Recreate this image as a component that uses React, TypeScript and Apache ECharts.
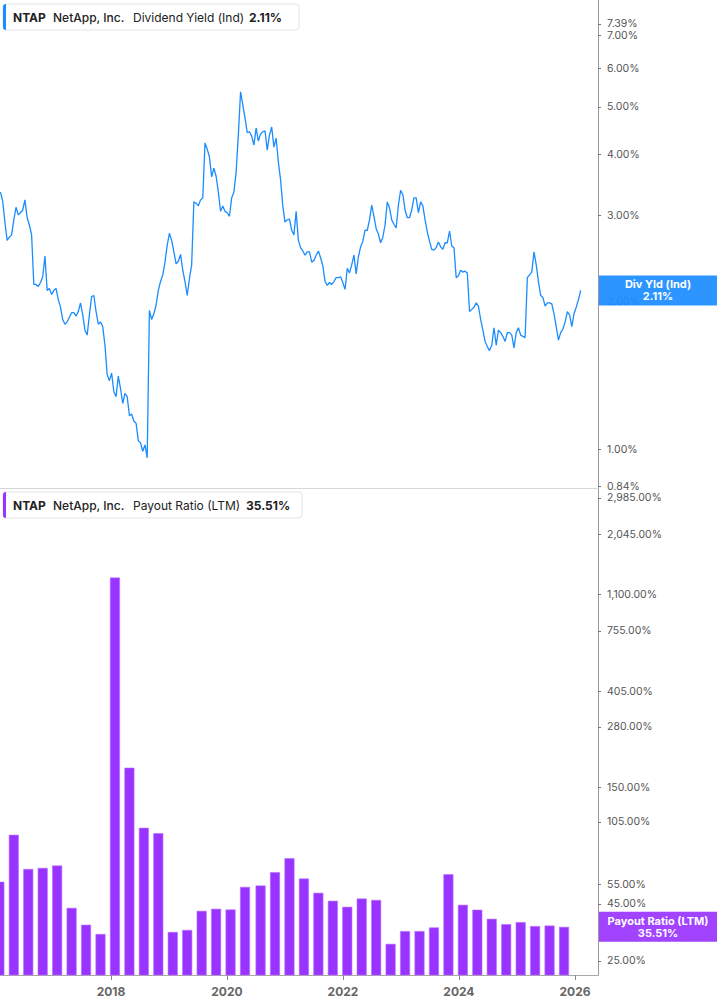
import React, { useEffect, useRef } from "react";
import * as echarts from "echarts";

// ---- Data ----
const yieldStart = "2016-02-05";
const yieldStepDays = 14;
const yieldValues = [
  3.35, 3.21, 2.91, 2.67, 2.71, 2.74, 2.94, 3.12, 3.01, 3.04,
  3.08, 3.23, 2.97, 2.87, 2.74, 2.17, 2.17, 2.15, 2.19, 2.25,
  2.48, 2.11, 2.13, 2.07, 2.11, 2.13, 2.02, 1.95, 1.84, 1.8,
  1.82, 1.86, 1.9, 1.9, 1.87, 1.91, 1.99, 1.88, 1.75, 1.71,
  1.88, 2.05, 2.06, 1.91, 1.8, 1.82, 1.78, 1.63, 1.42, 1.38,
  1.43, 1.31, 1.28, 1.41, 1.33, 1.24, 1.3, 1.28, 1.17, 1.18,
  1.14, 1.13, 1.04, 1.03, 0.99, 1.02, 0.96, 1.92, 1.84, 1.89,
  1.97, 2.11, 2.2, 2.27, 2.41, 2.61, 2.76, 2.67, 2.53, 2.39,
  2.42, 2.5, 2.32, 2.2, 2.06, 2.23, 2.38, 3.2, 3.18, 3.14,
  3.23, 3.26, 4.22, 4.1, 3.95, 3.6, 3.75, 3.61, 3.35, 3.06,
  3.14, 3.06, 3.04, 2.99, 3.26, 3.35, 3.68, 4.38, 5.37, 5.05,
  4.75, 4.43, 4.45, 4.36, 4.18, 4.53, 4.26, 4.4, 4.45, 4.47,
  4.08, 4.38, 4.55, 4.14, 4.32, 3.86, 3.55, 3.14, 2.91, 2.94,
  2.95, 2.8, 2.74, 3.06, 2.67, 2.58, 2.54, 2.49, 2.53, 2.53,
  2.41, 2.43, 2.49, 2.54, 2.46, 2.37, 2.2, 2.16, 2.19, 2.17,
  2.2, 2.24, 2.24, 2.25, 2.19, 2.12, 2.34, 2.29, 2.38, 2.49,
  2.28, 2.47, 2.59, 2.66, 2.8, 2.8, 2.94, 3.15, 2.99, 2.82,
  2.75, 2.64, 2.71, 2.87, 3.2, 3.11, 2.94, 2.88, 2.83, 3.15,
  3.38, 3.31, 3.08, 2.97, 2.97, 3.08, 3.26, 3.26, 3.04, 3.2,
  3.14, 2.94, 2.78, 2.66, 2.56, 2.55, 2.58, 2.65, 2.59, 2.56,
  2.64, 2.64, 2.79, 2.6, 2.58, 2.24, 2.26, 2.32, 2.3, 2.31,
  2.29, 1.91, 1.93, 1.95, 1.99, 1.96, 1.84, 1.75, 1.66, 1.62,
  1.59, 1.63, 1.77, 1.63, 1.75, 1.73, 1.7, 1.66, 1.73, 1.73,
  1.71, 1.61, 1.73, 1.77, 1.71, 1.7, 1.69, 2.24, 2.27, 2.3,
  2.53, 2.38, 2.2, 2.06, 2.04, 1.96, 1.99, 1.99, 1.98, 1.89,
  1.78, 1.67, 1.73, 1.76, 1.82, 1.91, 1.88, 1.78, 1.89, 1.95,
  2.02, 2.11,
];

const payoutDates = [
  "2016-01-29", "2016-04-29", "2016-07-29", "2016-10-28",
  "2017-01-27", "2017-04-28", "2017-07-28", "2017-10-27",
  "2018-01-26", "2018-04-27", "2018-07-27", "2018-10-26",
  "2019-01-25", "2019-04-26", "2019-07-26", "2019-10-25",
  "2020-01-24", "2020-04-24", "2020-07-31", "2020-10-30",
  "2021-01-29", "2021-04-30", "2021-07-30", "2021-10-29",
  "2022-01-28", "2022-04-29", "2022-07-29", "2022-10-28",
  "2023-01-27", "2023-04-28", "2023-07-28", "2023-10-27",
  "2024-01-26", "2024-04-26", "2024-07-26", "2024-10-25",
  "2025-01-24", "2025-04-25", "2025-07-25", "2025-10-24",
];
const payoutValues = [
  56.6, 91.9, 64.6, 65.3, 66.9, 43.2, 36.3, 33.0,
  1310, 183.8, 98.8, 93.5, 33.7, 34.4, 41.9, 42.8,
  42.5, 53.7, 54.4, 62.5, 72.2, 58.5, 50.5, 46.5,
  43.7, 47.6, 46.9, 29.8, 34.0, 34.0, 35.3, 61.2,
  44.6, 42.4, 38.6, 36.5, 37.3, 35.8, 36.0, 35.51,
];

const yieldTicks = [0.84, 1, 2, 3, 4, 5, 6, 7, 7.39];
const payoutTicks = [25, 45, 55, 105, 150, 280, 405, 755, 1100, 2045, 2985];
const yearTicks = ["2018-01-01", "2020-01-01", "2022-01-01", "2024-01-01", "2026-01-01"];
const xRange = ["2016-02-02", "2026-05-26"];
const yieldRange = [0.833, 8.27];
const payoutRange = [21.6, 3270];

const ticker = "NTAP";
const company = "NetApp, Inc.";
const yieldName = "Dividend Yield (Ind)";
const yieldShort = "Div Yld (Ind)";
const payoutName = "Payout Ratio (LTM)";

const BLUE = "#1a8cff";
const PURPLE = "#9933ff";
const FONT = 'Inter, "Noto Sans", sans-serif';
const DAY = 86400000;

const ts = (d: string) => Date.parse(d + "T00:00:00Z");
const fmtPct = (v: number) =>
  Number(v).toLocaleString("en-US", { minimumFractionDigits: 2, maximumFractionDigits: 2 }) + "%";

export default function App() {
  const ref = useRef<HTMLDivElement>(null);

  useEffect(() => {
    document.body.style.margin = "0";
    if (!ref.current) return;
    const chart = echarts.init(ref.current, null, { renderer: "svg" });

    const start = ts(yieldStart);
    const lineData = yieldValues.map((v, i) => [start + i * yieldStepDays * DAY, v]);
    const barData = payoutDates.map((d, i) => [ts(d), payoutValues[i]]);
    const years = yearTicks.map(ts);
    const lastYield = yieldValues[yieldValues.length - 1];
    const lastPayout = payoutValues[payoutValues.length - 1];

    const yLabel = {
      color: "#555",
      fontSize: 10.5,
      lineHeight: 11,
      fontFamily: FONT,
      margin: 9,
      hideOverlap: false,
      formatter: (v: number) => fmtPct(v),
    };

    chart.setOption({
      animation: false,
      backgroundColor: "#ffffff",
      grid: [
        { left: 0, top: 0, width: 598, height: 488, outerBoundsMode: "none", containLabel: false },
        { left: 0, top: 489, width: 598, height: 486, outerBoundsMode: "none", containLabel: false },
      ],
      xAxis: [
        {
          type: "value",
          gridIndex: 0,
          min: ts(xRange[0]),
          max: ts(xRange[1]),
          axisLine: { show: true, onZero: false, lineStyle: { color: "#d6d6d6", width: 1 } },
          axisTick: { show: false },
          axisLabel: { show: false },
          splitLine: { show: false },
        },
        {
          type: "value",
          gridIndex: 1,
          min: ts(xRange[0]),
          max: ts(xRange[1]),
          axisLine: { show: true, onZero: false, lineStyle: { color: "#a8a8a8", width: 1 } },
          axisTick: { show: true, customValues: years, length: 5, lineStyle: { color: "#888" } },
          axisLabel: {
            customValues: years,
            formatter: (v: number) => String(new Date(v).getUTCFullYear()),
            color: "#666",
            fontWeight: "bold",
            fontSize: 12,
            fontFamily: FONT,
            margin: 10,
            hideOverlap: false,
          },
          splitLine: { show: false },
        },
      ],
      yAxis: [
        {
          type: "log",
          logBase: 10,
          gridIndex: 0,
          position: "right",
          min: yieldRange[0],
          max: yieldRange[1],
          axisLine: { show: true, lineStyle: { color: "#9a9a9a", width: 1 } },
          axisTick: { show: true, customValues: yieldTicks, length: 3, lineStyle: { color: "#777" } },
          axisLabel: { ...yLabel, customValues: yieldTicks },
          splitLine: { show: false },
          minorTick: { show: false },
        },
        {
          type: "log",
          logBase: 10,
          gridIndex: 1,
          position: "right",
          min: payoutRange[0],
          max: payoutRange[1],
          axisLine: { show: true, lineStyle: { color: "#9a9a9a", width: 1 } },
          axisTick: { show: true, customValues: payoutTicks, length: 3, lineStyle: { color: "#777" } },
          axisLabel: { ...yLabel, customValues: payoutTicks },
          splitLine: { show: false },
          minorTick: { show: false },
        },
      ],
      series: [
        {
          type: "line",
          name: yieldName,
          xAxisIndex: 0,
          yAxisIndex: 0,
          data: lineData,
          showSymbol: false,
          symbol: "none",
          lineStyle: { color: BLUE, width: 1.3 },
          itemStyle: { color: BLUE },
          clip: true,
        },
        {
          type: "bar",
          name: payoutName,
          xAxisIndex: 1,
          yAxisIndex: 1,
          data: barData,
          barWidth: 10,
          itemStyle: { color: PURPLE, borderColor: "#b870ff", borderWidth: 0.6 },
          clip: true,
        },
      ],
    });

    const yY = chart.convertToPixel({ yAxisIndex: 0 }, lastYield) as number;
    const yP = chart.convertToPixel({ yAxisIndex: 1 }, lastPayout) as number;

    const legend = (top: number, width: number, color: string, name: string, val: string, valX: number) => [
      {
        type: "rect",
        shape: { x: 3, y: top, width, height: 26, r: 3 },
        style: { fill: "#fff", stroke: "#e4e4e4", lineWidth: 1 },
        z: 100,
      },
      {
        type: "rect",
        shape: { x: 3, y: top, width: 3, height: 26, r: [3, 0, 0, 3] },
        style: { fill: color },
        z: 101,
      },
      {
        type: "text",
        x: 13,
        y: top + 13,
        style: { text: ticker, fill: "#222", font: `bold 12px ${FONT}`, verticalAlign: "middle" },
        z: 101,
      },
      {
        type: "text",
        x: 53,
        y: top + 13,
        style: { text: company, fill: "#222", font: `500 12px ${FONT}`, verticalAlign: "middle" },
        z: 101,
      },
      {
        type: "text",
        x: 133,
        y: top + 13,
        style: { text: name, fill: "#222", font: `12px ${FONT}`, verticalAlign: "middle" },
        z: 101,
      },
      {
        type: "text",
        x: valX,
        y: top + 13,
        style: { text: val, fill: "#222", font: `bold 12px ${FONT}`, verticalAlign: "middle" },
        z: 101,
      },
    ];

    const tag = (cy: number, color: string, label: string, val: string) => [
      {
        type: "rect",
        shape: { x: 599, y: cy - 15, width: 118, height: 30 },
        style: { fill: color, opacity: 0.92 },
        z: 100,
      },
      {
        type: "text",
        x: 658,
        y: cy,
        style: {
          text: label + "\n" + val,
          fill: "#fff",
          font: `bold 11px ${FONT}`,
          align: "center",
          verticalAlign: "middle",
          lineHeight: 12,
        },
        z: 101,
      },
    ];

    chart.setOption({
      graphic: [
        ...legend(4, 296, BLUE, yieldName, fmtPct(lastYield), 249),
        ...legend(492, 299, PURPLE, payoutName, fmtPct(lastPayout), 246),
        ...tag(yY, BLUE, yieldShort, fmtPct(lastYield)),
        ...tag(yP, PURPLE, payoutName, fmtPct(lastPayout)),
      ],
    });

    return () => chart.dispose();
  }, []);

  return <div ref={ref} style={{ width: 717, height: 1005 }} />;
}
